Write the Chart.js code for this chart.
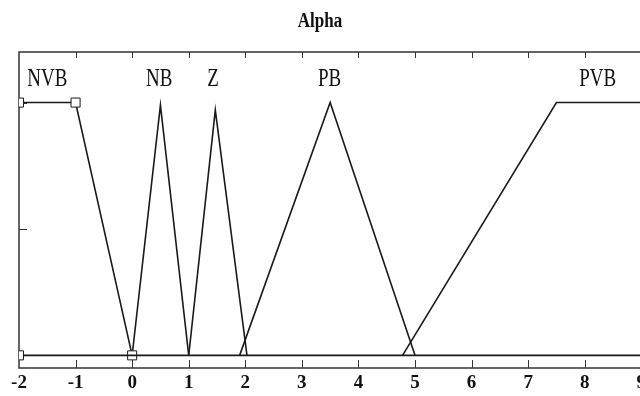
<!DOCTYPE html>
<html>
<head>
<meta charset="utf-8">
<script src="https://cdn.jsdelivr.net/npm/chart.js@4.4.1/dist/chart.umd.min.js"></script>
<style>
  html, body { margin: 0; padding: 0; background: #fff; overflow: hidden; }
  #wrap { width: 640px; height: 396px; overflow: hidden; }
</style>
</head>
<body>
<div id="wrap"><canvas id="myChart" width="660" height="396"></canvas></div>
<script>
// membership functions (x, y)
const nvbX = [-2, -1, 0];
const nvbY = [1, 1, 0];
const nbX = [0, 0.5, 1];
const nbY = [0, 0.99, 0];
const zX = [1, 1.47, 2.03];
const zY = [0, 0.97, 0];
const pbX = [1.9, 3.5, 5.0];
const pbY = [0, 1, 0];
const pvbX = [4.78, 7.5, 9.2];
const pvbY = [0, 1, 1];
const baseX = [-2, 9.2];
const baseY = [0, 0];

const setNames = ['NVB', 'NB', 'Z', 'PB', 'PVB'];
const nameX = [-1.5, 0.48, 1.43, 3.49, 8.23];
const nameY = 1.09;

const yTicks = [0, 0.5, 1];
const chartTitle = 'Alpha';

function pts(xs, ys) {
    return xs.map((x, i) => ({ x: x, y: ys[i] }));
}

function lineSet(label, xs, ys, radius) {
    return {
        label: label,
        data: pts(xs, ys),
        showLine: true,
        borderColor: '#1a1a1a',
        borderWidth: 1.6,
        pointStyle: 'rect',
        pointRadius: radius,
        pointBackgroundColor: '#fff',
        pointBorderColor: '#1a1a1a',
        pointBorderWidth: 1,
        tension: 0
    };
}

// text is a bit taller than wide in the original scan
function tallText(ctx, text, x, y, stretch) {
    ctx.save();
    ctx.translate(x, y);
    ctx.scale(1, stretch);
    ctx.fillText(text, 0, 0);
    ctx.restore();
}

// frame, inward ticks, set names and title
const framePlugin = {
    id: 'frame',
    beforeDatasetsDraw(chart) {
        const ctx = chart.ctx, a = chart.chartArea;
        const xs = chart.scales.x, ys = chart.scales.y;
        ctx.save();
        ctx.strokeStyle = '#333';
        ctx.lineWidth = 1.5;
        ctx.beginPath();
        ctx.moveTo(a.right, a.top); ctx.lineTo(a.left, a.top);
        ctx.lineTo(a.left, a.bottom); ctx.lineTo(a.right, a.bottom);
        ctx.stroke();
        ctx.lineWidth = 1;
        ctx.beginPath();
        for (let v = -1; v <= 9; v++) {
            const px = Math.round(xs.getPixelForValue(v)) + 0.5;
            ctx.moveTo(px, a.bottom); ctx.lineTo(px, a.bottom - 8);
            ctx.moveTo(px, a.top); ctx.lineTo(px, a.top + 6);
        }
        yTicks.forEach(v => {
            const py = Math.round(ys.getPixelForValue(v)) + 0.5;
            ctx.moveTo(a.left, py); ctx.lineTo(a.left + 8, py);
        });
        ctx.stroke();
        ctx.restore();
    },
    afterDraw(chart) {
        const ctx = chart.ctx;
        const xs = chart.scales.x, ys = chart.scales.y;
        ctx.save();
        ctx.fillStyle = '#111';
        ctx.textAlign = 'center';
        ctx.textBaseline = 'middle';
        ctx.font = '19px "Liberation Serif", serif';
        setNames.forEach((n, i) => {
            tallText(ctx, n, xs.getPixelForValue(nameX[i]), ys.getPixelForValue(nameY), 1.3);
        });
        ctx.font = 'bold 17px "Liberation Serif", serif';
        tallText(ctx, chartTitle, 320, 22, 1.25);
        ctx.restore();
    }
};

const ctx = document.getElementById('myChart');

const myChart = new Chart(ctx, {
    type: 'scatter',
    data: {
        datasets: [
            lineSet('base', baseX, baseY, [6.4, 0]),
            lineSet('NVB', nvbX, nvbY, 6.4),
            lineSet('NB', nbX, nbY, 0),
            lineSet('Z', zX, zY, 0),
            lineSet('PB', pbX, pbY, 0),
            lineSet('PVB', pvbX, pvbY, 0)
        ]
    },
    plugins: [framePlugin],
    options: {
        responsive: false,
        animation: false,
        layout: { padding: { left: 19, top: 52, right: 0, bottom: 0 } },
        plugins: {
            legend: { display: false },
            tooltip: { enabled: false },
            title: { display: false }
        },
        scales: {
            x: {
                type: 'linear',
                min: -2,
                max: 9.2,
                afterFit: function (scale) { scale.height = 28; },
                grid: { display: false, drawTicks: false },
                border: { display: false },
                ticks: {
                    stepSize: 1,
                    includeBounds: false,
                    autoSkip: false,
                    maxRotation: 0,
                    padding: 4,
                    color: '#111',
                    font: { family: '"Liberation Serif", serif', size: 19, weight: 'bold' }
                }
            },
            y: {
                display: false,
                min: -0.05,
                max: 1.2
            }
        }
    }
});
</script>
</body>
</html>
